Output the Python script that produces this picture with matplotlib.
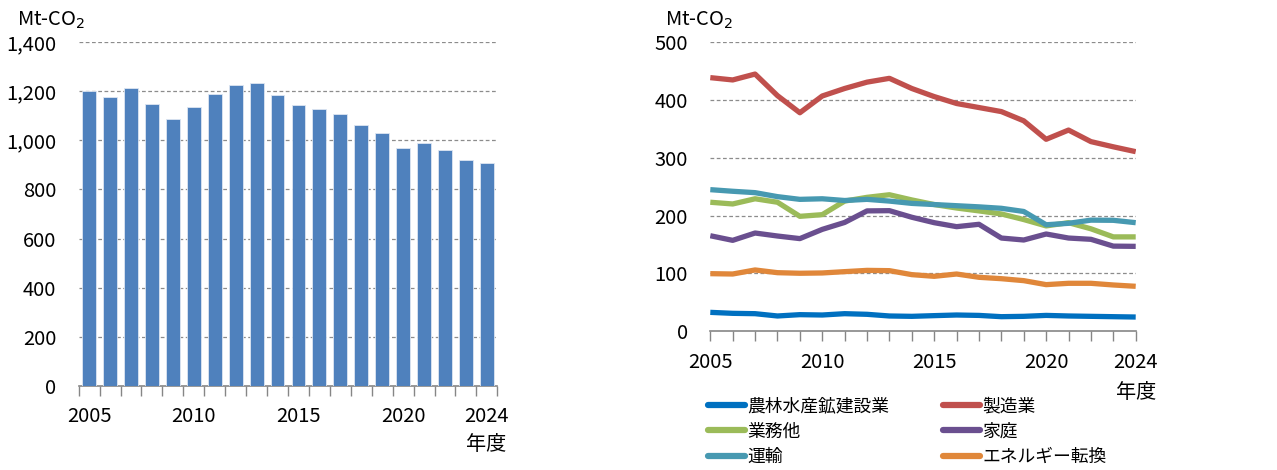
import matplotlib
matplotlib.use("Agg")
import matplotlib.pyplot as plt
import numpy as np

plt.rcParams['font.family'] = ['Noto Sans CJK JP', 'DejaVu Sans']

years = list(range(2005, 2025))
total = [1201, 1178, 1214, 1147, 1087, 1137, 1188, 1227, 1234, 1185,
         1146, 1127, 1109, 1064, 1029, 968, 988, 961, 922, 907]

agri = [32.3, 30.6, 30.0, 26.0, 28.3, 27.7, 30.0, 28.9, 26.0, 25.4,
        26.6, 27.7, 27.0, 24.8, 25.4, 27.0, 26.0, 25.4, 24.8, 24.2]
manuf = [438.8, 434.8, 445.0, 407.6, 378.0, 407.0, 420.0, 431.0, 437.6, 420.0,
         406.0, 394.0, 387.0, 380.0, 364.0, 332.0, 348.0, 328.0, 319.0, 310.6]
commercial = [223, 220, 229, 223, 198.6, 201.5, 225, 231.5, 236, 227,
              219, 213, 208, 202.7, 193, 182, 187.6, 177, 163, 163]
household = [165, 157, 169.7, 164.5, 160, 176, 188, 208, 208.4, 197,
             187.6, 180.7, 184.8, 161, 157.6, 168, 161, 158.8, 147, 146.6]
transport = [244.8, 242, 239.6, 232.7, 228, 229, 226, 228, 225, 221,
             219, 217, 215, 212.5, 207, 184, 186.5, 192, 191.7, 187.6]
energy = [99.3, 98.7, 105.7, 101, 100, 100.5, 102.8, 105, 104.5, 97.6,
          94.7, 98.7, 93, 90.6, 87.2, 80.3, 82.6, 82.6, 79.7, 77.4]

series_names = ['農林水産鉱建設業', '製造業', '業務他', '家庭', '運輸', 'エネルギー転換']
series_vals = [agri, manuf, commercial, household, transport, energy]
series_colors = ['#0070C0', '#C0504D', '#9BBB59', '#6A4F8F', '#4799B1', '#E0873A']

left_ticks = [0, 200, 400, 600, 800, 1000, 1200, 1400]
left_ticklabels = ['0', '200', '400', '600', '800', '1,000', '1,200', '1,400']
right_ticks = [0, 100, 200, 300, 400, 500]
xlabel_years = [2005, 2010, 2015, 2020, 2024]

W, H = 1277, 470
fig = plt.figure(figsize=(W/100, H/100), dpi=100)

axis_gray = '#868686'
grid_gray = '#8c8c8c'
fs = 14.5

# ---------- Left bar chart ----------
ax1 = fig.add_axes([78.7/W, 1-385.7/H, (497.3-78.7)/W, (385.7-42.3)/H])
x = np.arange(len(years))
ax1.bar(x, total, width=0.66, color='#4F81BD', edgecolor='#dde6f2', linewidth=0.6, zorder=3)
ax1.set_xlim(-0.5, len(years)-0.5)
ax1.set_ylim(0, 1400)
ax1.set_yticks(left_ticks)
ax1.set_yticklabels(left_ticklabels, fontsize=fs)
for v in left_ticks[1:]:
    ax1.axhline(v, color=grid_gray, lw=0.9, ls=(0, (3, 2)), zorder=1)
for s in ['top', 'right', 'left']:
    ax1.spines[s].set_visible(False)
ax1.spines['bottom'].set_color(axis_gray)
ax1.spines['bottom'].set_linewidth(1.2)
ax1.tick_params(axis='y', length=0, pad=16)
ax1.set_xticks(np.arange(len(years)+1)-0.5, minor=False)
ax1.set_xticklabels([])
ax1.tick_params(axis='x', which='major', length=7, color=axis_gray, width=1)
for yv in xlabel_years:
    ax1.text(years.index(yv), -0.09, str(yv), transform=ax1.get_xaxis_transform(),
             ha='center', va='center', fontsize=fs)
fig.text(486/W, 1-445/H, '年度', ha='center', va='center', fontsize=fs)
fig.text(17/W, 1-20/H, 'Mt-CO$_2$', ha='left', va='center', fontsize=fs)

# ---------- Right line chart ----------
ax2 = fig.add_axes([710.3/W, 1-331/H, (1135.7-710.3)/W, (331-42.3)/H])
lines = []
for name, vals, c in zip(series_names, series_vals, series_colors):
    ln, = ax2.plot(years, vals, color=c, lw=3.8, label=name, zorder=3,
                   solid_joinstyle='round', solid_capstyle='butt')
    lines.append(ln)
ax2.set_xlim(2005, 2024)
ax2.set_ylim(0, 500)
ax2.set_yticks(right_ticks)
ax2.set_yticklabels([str(v) for v in right_ticks], fontsize=fs)
for v in right_ticks[1:]:
    ax2.axhline(v, color=grid_gray, lw=0.9, ls=(0, (3, 2)), zorder=1)
for s in ['top', 'right', 'left']:
    ax2.spines[s].set_visible(False)
ax2.spines['bottom'].set_color(axis_gray)
ax2.spines['bottom'].set_linewidth(1.2)
ax2.tick_params(axis='y', length=0, pad=16)
ax2.set_xticks(years)
ax2.set_xticklabels([])
ax2.tick_params(axis='x', length=7, color=axis_gray, width=1)
for yv in xlabel_years:
    ax2.text(yv, -0.108, str(yv), transform=ax2.get_xaxis_transform(),
             ha='center', va='center', fontsize=fs)
fig.text(1136/W, 1-392/H, '年度', ha='center', va='center', fontsize=fs)
fig.text(665/W, 1-20/H, 'Mt-CO$_2$', ha='left', va='center', fontsize=fs)

order = [0, 2, 4, 1, 3, 5]
leg = fig.legend([lines[i] for i in order], [series_names[i] for i in order],
                 ncol=2, loc='upper left', bbox_to_anchor=(708/W, 1-397/H),
                 frameon=False, handlelength=2.1, handletextpad=0.12,
                 columnspacing=3.0, labelspacing=0.42, borderaxespad=0,
                 borderpad=0, prop={'family': ['Noto Sans CJK JP'], 'size': 12.8})
for h in leg.legend_handles:
    h.set_linewidth(4.5)
    h.set_solid_capstyle('round')

fig.savefig('out.png', dpi=100)
